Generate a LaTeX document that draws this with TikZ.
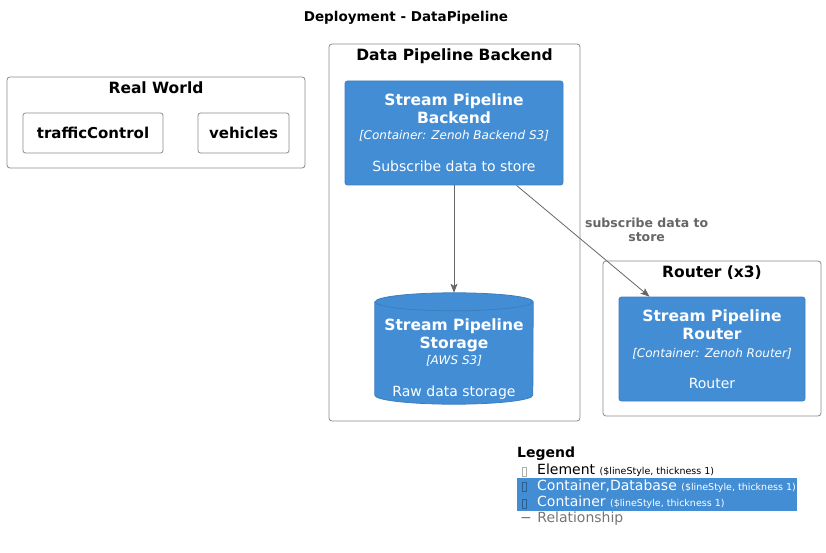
\documentclass[tikz,border=0pt]{standalone}
\usepackage{fontspec}
\setmainfont{DejaVu Sans}
\usepackage{xcolor}
\usetikzlibrary{positioning,calc,arrows.meta}
\definecolor{c4Blue}{HTML}{438DD5}
\definecolor{c4BlueLine}{HTML}{3C7FC0}
\definecolor{c4Rel}{HTML}{666666}
\definecolor{c4Bound}{HTML}{8A8A8A}
\newcommand{\fs}[2]{\fontsize{#1}{#2}\selectfont}

\begin{document}
\begin{tikzpicture}[x=1pt,y=-1pt,>={Stealth[length=9pt,width=7pt,inset=2pt]}]
\tikzstyle{bound}=[draw=c4Bound, rounded corners=3pt, line width=0.8pt, inner sep=0pt]
\tikzstyle{btitle}=[font=\fs{15.5}{18}\bfseries, inner sep=0pt, anchor=base]
\tikzstyle{elem}=[draw=c4Bound, rounded corners=2.5pt, line width=0.8pt, minimum height=40pt, font=\fs{15}{18}\bfseries, inner sep=0pt]
\tikzstyle{cont}=[draw=c4BlueLine, fill=c4Blue, rounded corners=2.5pt, line width=0.8pt, text=white, align=center, minimum height=104pt, font=\fs{15.5}{18}\bfseries, inner sep=0pt]
\tikzstyle{rel}=[->, draw=c4Rel, line width=0.8pt]
\tikzstyle{rellbl}=[text=c4Rel, font=\fs{12.5}{14}\bfseries, align=center, inner sep=0pt]
\tikzstyle{legbar}=[fill=c4Blue, minimum width=280pt, minimum height=16.5pt, inner sep=0pt]
\tikzstyle{legtxt}=[anchor=west, inner sep=0pt, font=\fs{14}{16}]
\tikzstyle{legicon}=[draw, line width=0.45pt, minimum width=4.5pt, minimum height=9.5pt, inner sep=0pt]
\useasboundingbox (0,0) rectangle (826,553);
% title
\node[font=\fs{13.5}{16}\bfseries, inner sep=0pt] (title) at (406,18) {Deployment - DataPipeline};
% real world boundary
\node[bound, minimum width=298pt, minimum height=91pt] (rw) at (156,122.5) {};
\node[btitle] (rwTitle) at ([yshift=-16.5pt]rw.north) {Real World};
\node[elem, minimum width=140pt] (traffic) at (93,133) {trafficControl};
\node[elem, minimum width=91pt] (vehicles) at (243.5,133) {vehicles};
% backend boundary
\node[bound, minimum width=251pt, minimum height=377pt] (dpb) at (454.5,232.5) {};
\node[btitle] (dpbTitle) at ([yshift=-16.5pt]dpb.north) {Data Pipeline Backend};
\node[cont, minimum width=218pt] (backend) at (454,133)
  {Stream Pipeline\\Backend\\[-2pt]{\fs{12}{14}\mdseries\itshape [Container: Zenoh Backend S3]}\\[14pt]{\fs{14}{16}\mdseries Subscribe data to store}};
% storage cylinder
\node[minimum width=158pt, minimum height=111pt, inner sep=0pt] (store) at (454,348.5) {};
\path[fill=c4Blue, draw=c4BlueLine, line width=0.8pt] ($(store.north west)+(0,9)$) -- ($(store.south west)+(0,-9)$)
  arc[start angle=180, end angle=0, x radius=79, y radius=9] -- ($(store.north east)+(0,9)$)
  arc[start angle=0, end angle=-180, x radius=79, y radius=9] -- cycle;
\draw[c4BlueLine, line width=0.8pt] ($(store.north west)+(0,9)$) arc[start angle=180, end angle=0, x radius=79, y radius=9];
\node[text=white, align=center, font=\fs{15.5}{18}\bfseries, inner sep=0pt] (storeTxt) at ([yshift=-11pt]store.center)
  {Stream Pipeline\\Storage\\[-2pt]{\fs{12}{14}\mdseries\itshape [AWS S3]}\\[14pt]{\fs{14}{16}\mdseries Raw data storage}};
% router boundary
\node[bound, minimum width=218pt, minimum height=155pt] (rtb) at (712,338.5) {};
\node[btitle] (rtbTitle) at ([yshift=-16.5pt]rtb.north) {Router (x3)};
\node[cont, minimum width=186pt] (router) at (712,349)
  {Stream Pipeline\\Router\\{\fs{12}{14}\mdseries\itshape [Container: Zenoh Router]}\\[13pt]{\fs{14}{16}\mdseries Router}};
% relations
\draw[rel] (backend) -- (store);
\draw[rel] (backend) -- node[rellbl, pos=0.4, anchor=west, xshift=15pt] (subLbl) {subscribe data to\\store} (router);
% legend
\node[legtxt, font=\fs{14}{16}\bfseries] (legend) at (517,454) {Legend};
\node[legbar] (barDb) at (657,486.5) {};
\node[legbar] (barCont) at (657,503) {};
\node[legicon, draw=c4Bound!70] (icElem) at (524,471.5) {};
\node[legicon, draw=c4BlueLine!75!black] (icDb) at (524,486.5) {};
\node[legicon, draw=c4BlueLine!75!black] (icCont) at (524,503.5) {};
\node[legtxt] (legElem) at (537,470) {Element {\fs{9.5}{11}(\$lineStyle, thickness 1)}};
\node[legtxt, text=white] (legDb) at (537,486) {Container,Database {\fs{9.5}{11}(\$lineStyle, thickness 1)}};
\node[legtxt, text=white] (legCont) at (537,502.5) {Container {\fs{9.5}{11}(\$lineStyle, thickness 1)}};
\node[legtxt, text=c4Rel!90] (legRel) at (520,519) {− \hspace{1pt}Relationship};
\end{tikzpicture}
\end{document}
